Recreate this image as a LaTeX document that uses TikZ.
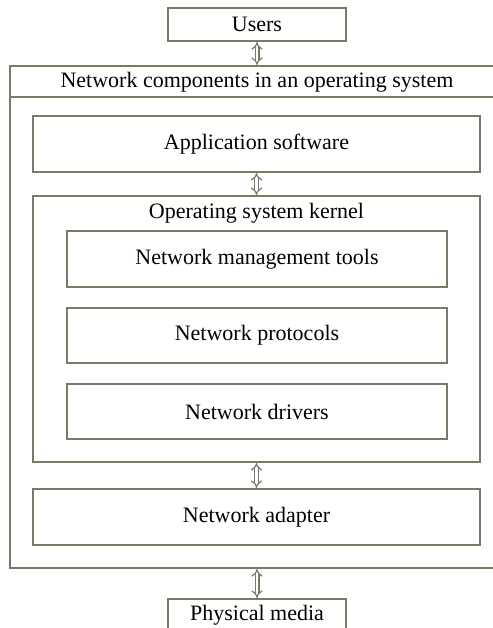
\documentclass[tikz,border=0pt]{standalone}
\usepackage{fontspec}
\setmainfont{Liberation Serif}
\usetikzlibrary{arrows.meta}
\definecolor{edgegray}{RGB}{122,122,104}
\tikzset{
  layer/.style={draw=edgegray, line width=1pt, minimum height=28pt, inner sep=0pt, font=\fontsize{11}{13}\selectfont},
  link/.style={draw=edgegray, line width=.6pt, double=white, double distance=1.3pt, {Implies}-{Implies}}
}
\begin{document}
\begin{tikzpicture}[x=.5pt, y=-.5pt]
\useasboundingbox (0,0) rectangle (493,628);
\clip (0,0) rectangle (493,628);
% outer frame and kernel
\node[layer, minimum width=247pt, minimum height=251pt] (os) at (257,317) {};
\draw[edgegray, line width=1pt] ([yshift=-16pt]os.north west) -- ([yshift=-16pt]os.north east);
\node[font=\fontsize{11}{13}\selectfont] (ostitle) at (257,82) {Network components in an operating system};
\node[layer, minimum width=223.5pt, minimum height=133pt] (kernel) at (256.5,329) {};
\node[font=\fontsize{11}{13}\selectfont] (ktitle) at (256.5,213) {Operating system kernel};
% layers
\node[layer, minimum width=89pt, minimum height=16.5pt] (users) at (257,24.5) {Users};
\node[layer, minimum width=223.5pt] (app) at (256.5,144) {Application software};
\node[layer, minimum width=190pt] (tools) at (257,259) {Network management tools};
\node[layer, minimum width=190pt, minimum height=27.5pt] (proto) at (257,335.5) {Network protocols};
\node[layer, minimum width=190pt, minimum height=27.5pt] (drivers) at (257,411.5) {Network drivers};
\node[layer, minimum width=223.5pt] (adapter) at (256.5,517) {Network adapter};
\node[layer, minimum width=89pt, minimum height=16.5pt] (media) at (257,615.5) {Physical media};
% links
\draw[link] (users.south) -- (users.south|-os.north);
\draw[link] (app.south) -- (app.south|-kernel.north);
\draw[link] (kernel.south) -- (kernel.south|-adapter.north);
\draw[link] (media.north) -- (media.north|-os.south);
\end{tikzpicture}
\end{document}
